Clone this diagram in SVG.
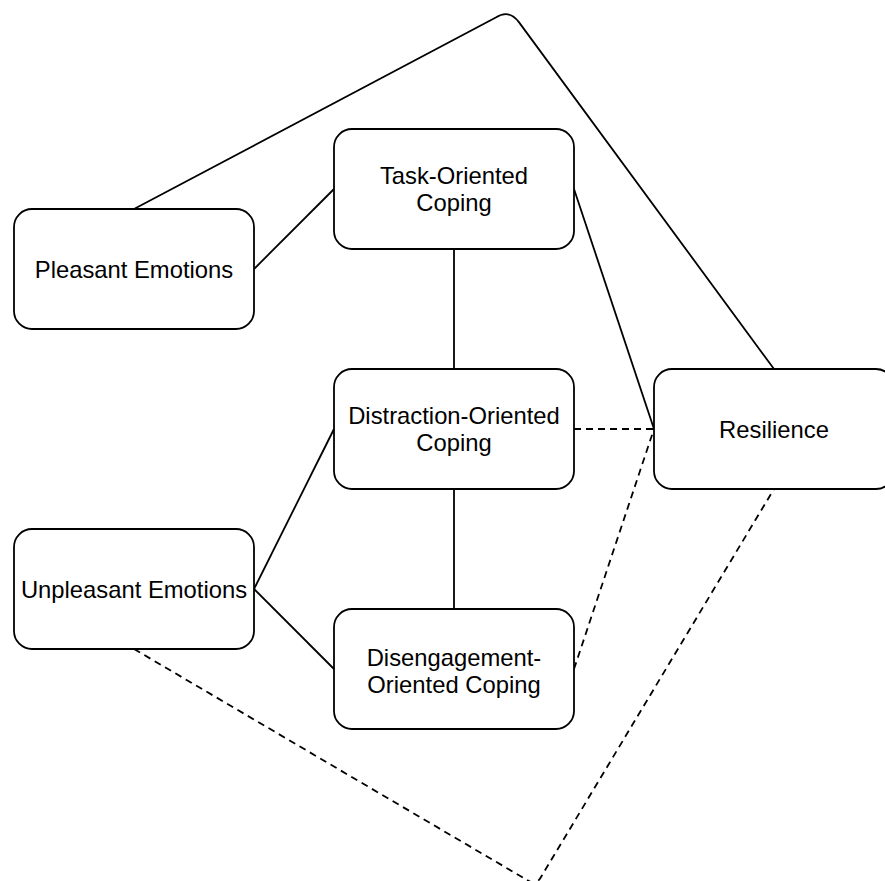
<svg xmlns="http://www.w3.org/2000/svg" width="885" height="881" viewBox="0 0 885 881">
<style>
.n{fill:#fff;stroke:#000;stroke-width:1.8}
.t{font-family:"Liberation Sans",Arial,sans-serif;font-size:23.8px;fill:#000;text-anchor:middle}
.c{fill:none;stroke:#000;stroke-width:1.8}
.d{stroke-dasharray:7 5}
</style>
<rect width="885" height="881" fill="#fff"/>
<g id="connectors">
<path class="c" d="M134,209 L495.8,17.5 Q509,9 518.9,22.1 L774,369"/>
<path class="c" d="M254,269 L334,189"/>
<path class="c" d="M454,249 L454,369"/>
<path class="c" d="M574,189 L654,429"/>
<path class="c d" d="M574,429 L654,429"/>
<path class="c" d="M454,489 L454,609"/>
<path class="c" d="M254,589 L334,429"/>
<path class="c" d="M254,589 L334,669"/>
<path class="c d" d="M574,669 L654,429"/>
<path class="c d" d="M134,649 L527,880 Q536,886 541,877 L774,489"/>
</g>
<g id="pleasant">
<rect class="n" x="14" y="209" width="240" height="120" rx="18"/>
<text class="t" x="134" y="277.5">Pleasant Emotions</text>
</g>
<g id="task">
<rect class="n" x="334" y="129" width="240" height="120" rx="18"/>
<text class="t" x="454" y="183.5">Task-Oriented</text>
<text class="t" x="454" y="210.5">Coping</text>
</g>
<g id="distraction">
<rect class="n" x="334" y="369" width="240" height="120" rx="18"/>
<text class="t" x="454" y="423.5">Distraction-Oriented</text>
<text class="t" x="454" y="450.5">Coping</text>
</g>
<g id="resilience">
<rect class="n" x="654" y="369" width="240" height="120" rx="18"/>
<text class="t" x="774" y="437.5">Resilience</text>
</g>
<g id="unpleasant">
<rect class="n" x="14" y="529" width="240" height="120" rx="18"/>
<text class="t" x="134" y="597.5">Unpleasant Emotions</text>
</g>
<g id="disengagement">
<rect class="n" x="334" y="609" width="240" height="120" rx="18"/>
<text class="t" x="454" y="665.5">Disengagement-</text>
<text class="t" x="454" y="692.5">Oriented Coping</text>
</g>
</svg>
